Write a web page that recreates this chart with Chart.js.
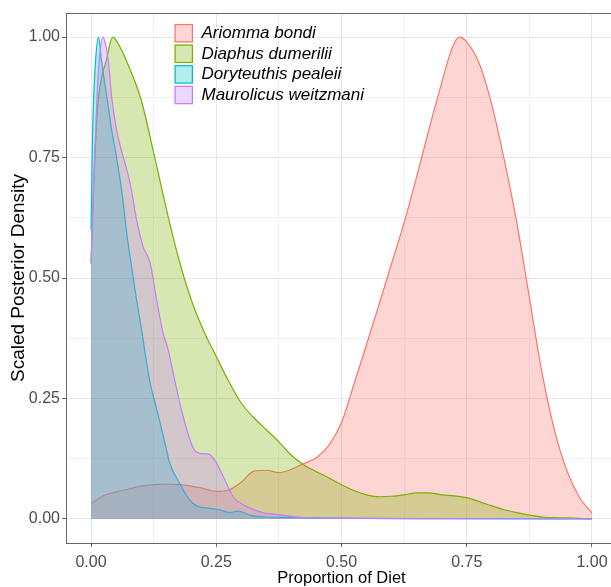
<!DOCTYPE html>
<html><head><meta charset="utf-8">
<script src="https://cdn.jsdelivr.net/npm/chart.js@4.4.0/dist/chart.umd.min.js"></script>
<style>
html,body{margin:0;padding:0;background:#fff;overflow:hidden;width:611px;height:587px}
#wrap{position:absolute;left:0;top:0;width:620px;height:587px}
</style>
</head><body><div id="wrap"><canvas id="c" width="620" height="587"></canvas></div>
<script>
// ---- data ----
const seriesNames = ['Ariomma bondi','Diaphus dumerilii','Doryteuthis pealeii','Maurolicus weitzmani'];

const ariommaX = [0,0.025,0.05,0.075,0.1,0.125,0.15,0.175,0.2,0.225,0.25,0.275,0.3,0.325,0.35,0.375,0.4,0.425,0.45,0.475,0.5,0.525,0.55,0.575,0.6,0.625,0.65,0.675,0.7,0.72,0.735,0.75,0.775,0.8,0.825,0.85,0.875,0.9,0.925,0.95,0.975,1.0];
const ariommaY = [0.032,0.048,0.056,0.062,0.068,0.071,0.072,0.071,0.068,0.063,0.057,0.060,0.076,0.099,0.101,0.096,0.103,0.115,0.127,0.153,0.20,0.28,0.362,0.445,0.53,0.615,0.71,0.81,0.905,0.975,1.0,0.99,0.945,0.86,0.745,0.615,0.46,0.305,0.185,0.10,0.045,0.012];

const diaphusX = [0,0.005,0.012,0.02,0.03,0.043,0.06,0.075,0.1,0.125,0.15,0.175,0.2,0.225,0.25,0.275,0.3,0.325,0.35,0.375,0.4,0.425,0.45,0.475,0.5,0.525,0.55,0.575,0.6,0.625,0.65,0.675,0.7,0.725,0.75,0.775,0.8,0.825,0.85,0.875,0.9,0.95,1.0];
const diaphusY = [0.53,0.68,0.84,0.91,0.95,1.0,0.975,0.94,0.87,0.76,0.645,0.54,0.455,0.39,0.337,0.285,0.24,0.21,0.185,0.16,0.132,0.112,0.098,0.085,0.071,0.059,0.05,0.046,0.047,0.050,0.054,0.054,0.050,0.048,0.044,0.036,0.027,0.019,0.013,0.008,0.004,0.002,0.0];

const dorytX = [0,0.003,0.009,0.015,0.021,0.031,0.04,0.05,0.061,0.071,0.081,0.091,0.101,0.11,0.118,0.128,0.138,0.148,0.157,0.167,0.177,0.187,0.197,0.211,0.237,0.257,0.277,0.294,0.317,0.35,0.4,0.45,0.55,0.7,1.0];
const dorytY = [0.60,0.80,0.95,1.0,0.95,0.88,0.815,0.755,0.683,0.595,0.523,0.454,0.392,0.33,0.282,0.24,0.199,0.155,0.116,0.092,0.074,0.055,0.039,0.027,0.022,0.019,0.013,0.016,0.008,0.004,0.003,0.002,0.001,0.0005,0];

const mauroX = [0,0.005,0.012,0.018,0.024,0.03,0.035,0.041,0.051,0.062,0.078,0.091,0.104,0.118,0.131,0.144,0.154,0.167,0.184,0.204,0.217,0.234,0.247,0.264,0.284,0.31,0.343,0.383,0.416,0.5,0.7,1.0];
const mauroY = [0.53,0.70,0.88,0.97,1.0,0.98,0.946,0.877,0.807,0.76,0.697,0.62,0.565,0.531,0.454,0.385,0.351,0.288,0.212,0.147,0.136,0.135,0.122,0.088,0.046,0.026,0.013,0.008,0.003,0.001,0.0005,0];

const gridValues = [0,0.125,0.25,0.375,0.5,0.625,0.75,0.875,1];

// ---- styling ----
const FONT = "'Liberation Sans', Arial, Helvetica, sans-serif";
const lineCols = ['#F8766D','#7CAE00','#00BFC4','#C77CFF'];
const fillCols = ['rgba(248,118,109,0.3)','rgba(124,174,0,0.3)','rgba(0,191,196,0.3)','rgba(199,124,255,0.3)'];
const isMajor = v => Math.abs(v*4 - Math.round(v*4)) < 1e-6;
const pts = (xs, ys) => xs.map((x,i) => ({x:x, y:ys[i]}));

const xsAll = [ariommaX, diaphusX, dorytX, mauroX];
const ysAll = [ariommaY, diaphusY, dorytY, mauroY];

const datasets = seriesNames.map((n,i) => ({
  label: n,
  data: pts(xsAll[i], ysAll[i]),
  borderColor: lineCols[i],
  backgroundColor: fillCols[i],
  borderWidth: 1.2,
  fill: 'origin',
  pointRadius: 0,
  cubicInterpolationMode: 'monotone',
  order: 4 - i
}));

const panelBorder = {
  id: 'panelBorder',
  afterDatasetsDraw(chart) {
    const {ctx, chartArea: a} = chart;
    ctx.save();
    ctx.strokeStyle = '#666666';
    ctx.lineWidth = 1;
    ctx.strokeRect(Math.round(a.left)+0.5, Math.round(a.top)+0.5, Math.round(a.right-a.left), Math.round(a.bottom-a.top));
    ctx.restore();
  }
};

const insideLegend = {
  id: 'insideLegend',
  afterDraw(chart) {
    const ctx = chart.ctx;
    ctx.save();
    const bx = 174.5, size = 18.5, y0 = 33.2, step = 20.6;
    seriesNames.forEach((n,i) => {
      const cy = y0 + step*i;
      ctx.fillStyle = '#ffffff';
      ctx.fillRect(bx, cy - size/2, size, size);
      ctx.fillStyle = fillCols[i];
      ctx.fillRect(bx, cy - size/2, size, size);
      ctx.strokeStyle = lineCols[i];
      ctx.lineWidth = 1.2;
      ctx.strokeRect(bx+0.6, cy - size/2 + 0.6, size-1.2, size-1.2);
      ctx.fillStyle = '#000';
      ctx.font = "italic 17px " + FONT;
      ctx.textBaseline = 'middle';
      ctx.textAlign = 'left';
      ctx.fillText(n, 201.5, cy);
    });
    ctx.restore();
  }
};

Chart.defaults.font.family = FONT;

new Chart(document.getElementById('c'), {
  type: 'line',
  data: { datasets: datasets },
  options: {
    responsive: false,
    devicePixelRatio: 1,
    animation: false,
    layout: { padding: { top: 13, right: 3, left: 0, bottom: 0 } },
    plugins: { legend: { display: false }, tooltip: { enabled: false } },
    scales: {
      x: {
        type: 'linear', min: -0.05, max: 1.05,
        afterBuildTicks: ax => { ax.ticks = gridValues.map(v => ({value: v})); },
        afterFit: ax => { ax.height = 44; },
        ticks: { callback: v => isMajor(v) ? v.toFixed(2) : '', font: {size: 16}, color: '#4d4d4d', padding: 6, autoSkip: false, maxRotation: 0 },
        grid: {
          color: c => isMajor(c.tick.value) ? '#e6e6e6' : '#f1f1f1', lineWidth: 1,
          tickLength: 4, tickWidth: 1,
          tickColor: c => isMajor(c.tick.value) ? '#666666' : 'rgba(0,0,0,0)'
        },
        border: { display: false },
        title: { display: true, text: 'Proportion of Diet', color: '#000', font: {size: 16.5, lineHeight: 1}, padding: {top: 0, bottom: 0} }
      },
      y: {
        type: 'linear', min: -0.05, max: 1.05,
        afterBuildTicks: ax => { ax.ticks = gridValues.map(v => ({value: v})); },
        afterFit: ax => { ax.width = 66; },
        ticks: { callback: v => isMajor(v) ? v.toFixed(2) : '', font: {size: 16}, color: '#4d4d4d', padding: 2, autoSkip: false },
        grid: {
          color: c => isMajor(c.tick.value) ? '#e6e6e6' : '#f1f1f1', lineWidth: 1,
          tickLength: 4, tickWidth: 1,
          tickColor: c => isMajor(c.tick.value) ? '#666666' : 'rgba(0,0,0,0)'
        },
        border: { display: false },
        title: { display: true, text: 'Scaled Posterior Density', color: '#000', font: {size: 19, lineHeight: 1}, padding: {top: 9.5, bottom: 0} }
      }
    }
  },
  plugins: [panelBorder, insideLegend]
});
</script>
</body></html>
